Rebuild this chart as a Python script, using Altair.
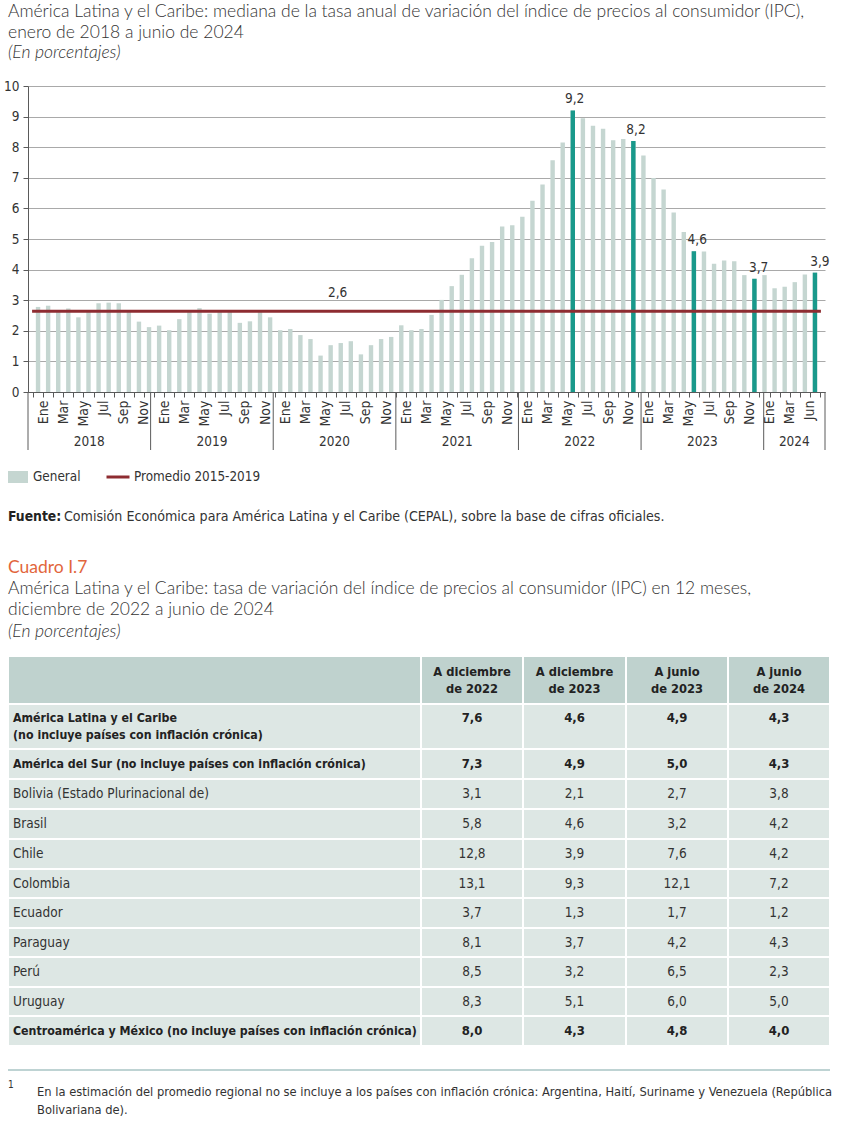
import json
import altair as alt
import pandas as pd

# ---------------- data: gráfico ----------------
ipc_2018 = [2.78, 2.82, 2.68, 2.73, 2.44, 2.65, 2.90, 2.92, 2.90, 2.65, 2.30, 2.12]
ipc_2019 = [2.17, 2.02, 2.38, 2.65, 2.74, 2.56, 2.65, 2.65, 2.26, 2.31, 2.68, 2.44]
ipc_2020 = [2.02, 2.06, 1.86, 1.73, 1.19, 1.53, 1.60, 1.66, 1.23, 1.53, 1.73, 1.80]
ipc_2021 = [2.18, 2.02, 2.06, 2.52, 3.01, 3.46, 3.83, 4.37, 4.78, 4.90, 5.41, 5.45]
ipc_2022 = [5.73, 6.25, 6.78, 7.57, 8.15, 9.20, 8.95, 8.70, 8.60, 8.23, 8.27, 8.20]
ipc_2023 = [7.73, 6.99, 6.62, 5.87, 5.23, 4.60, 4.59, 4.19, 4.30, 4.27, 3.82, 3.70]
ipc_2024 = [3.82, 3.39, 3.44, 3.59, 3.84, 3.90]
years = [2018, 2019, 2020, 2021, 2022, 2023, 2024]
month_names = ["Ene", "Feb", "Mar", "Abr", "May", "Jun", "Jul", "Ago", "Sep", "Oct", "Nov", "Dic"]
tick_labels = ["Ene", "Mar", "May", "Jul", "Sep", "Nov"] * 6 + ["Ene", "Mar", "Jun"]
highlight_idx = [53, 59, 65, 71, 77]
promedio_2015_2019 = 2.64
serie_general = "General"
serie_promedio = "Promedio 2015-2019"

# ---------------- data: cuadro ----------------
col_headers = ["A diciembre\nde 2022", "A diciembre\nde 2023", "A junio\nde 2023", "A junio\nde 2024"]
row_labels = [
    "América Latina y el Caribe\n(no incluye países con inflación crónica)",
    "América del Sur (no incluye países con inflación crónica)",
    "Bolivia (Estado Plurinacional de)",
    "Brasil",
    "Chile",
    "Colombia",
    "Ecuador",
    "Paraguay",
    "Perú",
    "Uruguay",
    "Centroamérica y México (no incluye países con inflación crónica)",
]
dic_2022 = [7.6, 7.3, 3.1, 5.8, 12.8, 13.1, 3.7, 8.1, 8.5, 8.3, 8.0]
dic_2023 = [4.6, 4.9, 2.1, 4.6, 3.9, 9.3, 1.3, 3.7, 3.2, 5.1, 4.3]
jun_2023 = [4.9, 5.0, 2.7, 3.2, 7.6, 12.1, 1.7, 4.2, 6.5, 6.0, 4.8]
jun_2024 = [4.3, 4.3, 3.8, 4.2, 4.2, 7.2, 1.2, 4.3, 2.3, 5.0, 4.0]
bold_rows = [0, 1, 10]

# ---------------- textos ----------------
title_1 = "América Latina y el Caribe: mediana de la tasa anual de variación del índice de precios al consumidor (IPC),"
title_2 = "enero de 2018 a junio de 2024"
subtitle = "(En porcentajes)"
fuente_b = "Fuente:"
fuente_t = "Comisión Económica para América Latina y el Caribe (CEPAL), sobre la base de cifras oficiales."
cuadro = "Cuadro I.7"
ctitle_1 = "América Latina y el Caribe: tasa de variación del índice de precios al consumidor (IPC) en 12 meses,"
ctitle_2 = "diciembre de 2022 a junio de 2024"
nota_n = "1"
nota_t = ("En la estimación del promedio regional no se incluye a los países con inflación crónica: Argentina, Haití, Suriname y Venezuela (República\n"
          "Bolivariana de).")

# ---------------- estilos ----------------
COND = "DejaVu Sans Condensed, Liberation Sans Narrow, sans-serif"
TFONT = "Lato, Roboto, sans-serif"
BAR = "#c5d6d1"
TEAL = "#19998b"
RED = "#8e2c31"
GRID = "#a9a9a9"
AX = "#5a5a5a"
TXT = "#333333"
DARK = "#222222"
HEAD = "#bfd2ce"
BODY = "#dde7e4"
ORANGE = "#e2663c"
SEP = "#a9c4c4"
W, H = 797, 306
TS = 13.5   # tamaño de texto de la tabla
TB = 12.3   # tamaño de texto en negrita de la tabla

# ---------------- tabla mensual ----------------
recs = []
i = 0
for y, vals in zip(years, [ipc_2018, ipc_2019, ipc_2020, ipc_2021, ipc_2022, ipc_2023, ipc_2024]):
    for m, v in enumerate(vals):
        recs.append({"idx": i, "anio": str(y), "mes": month_names[m], "valor": v})
        i += 1
df = pd.DataFrame(recs)
n_months = len(df)

xs = alt.Scale(domain=[0, n_months], nice=False, zero=False)
ys = alt.Scale(domain=[0, 10], nice=False, zero=True)


def CX(field=None, datum=None, axis=None):
    if datum is not None:
        return alt.X(datum=datum, scale=xs, axis=axis)
    return alt.X(field, scale=xs, axis=axis)


def CY(field, axis=None):
    return alt.Y(field, scale=ys, axis=axis, stack=None)


label_expr = ("datum.value % 2 == 1 ? " + json.dumps(tick_labels) +
              "[(datum.value - 1) / 2] : ''")
x_axis = alt.Axis(values=list(range(n_months + 1)), labelExpr=label_expr, labelAngle=270,
                  labelAlign="right", labelBaseline="middle", labelPadding=3, tickSize=5,
                  tickColor=AX, domainColor=AX, labelFont=COND, labelFontSize=14,
                  labelColor=TXT, labelOverlap=False, labelFlush=False, grid=False, title=None,
                  orient="bottom")
y_axis = alt.Axis(values=list(range(11)), grid=True, gridColor=GRID, gridWidth=1, tickSize=5,
                  tickColor=AX, domainColor=AX, labelFont=COND, labelFontSize=13.5,
                  labelColor=TXT, labelPadding=4, title=None, orient="left")

base = alt.Chart(df).transform_calculate(
    xc="datum.idx + 0.5",
    serie="'" + serie_general + "'",
    lab="replace(format(datum.valor, '.1f'), '.', ',')",
)

leg_general = alt.Legend(orient="none", legendX=-20, legendY=381, title=None,
                         symbolType="M-1,-0.6H1V0.6H-1Z", symbolSize=400, symbolStrokeWidth=0,
                         labelFont=COND, labelFontSize=13.4, labelColor=TXT, labelOffset=5, padding=0)
leg_prom = alt.Legend(orient="none", legendX=77, legendY=378, title=None,
                      symbolType="M-1,0H1", symbolSize=529, symbolStrokeWidth=3,
                      labelFont=COND, labelFontSize=13.4, labelColor=TXT, labelOffset=3, padding=0)

bars = base.mark_bar(size=4.4, orient="vertical").encode(
    x=CX("xc:Q", axis=x_axis),
    y=CY("valor:Q", axis=y_axis),
    color=alt.Color("serie:N", scale=alt.Scale(domain=[serie_general], range=[BAR]), legend=leg_general),
)
hl = base.transform_filter(alt.FieldOneOfPredicate(field="idx", oneOf=highlight_idx)).mark_bar(
    size=4.4, orient="vertical", color=TEAL
).encode(x=CX("xc:Q"), y=CY("valor:Q"))

hl_text = base.transform_filter(alt.FieldOneOfPredicate(field="idx", oneOf=highlight_idx)).mark_text(
    font=COND, fontSize=13.5, color=TXT, baseline="bottom", dy=-4
).encode(x=CX("xc:Q"), y=CY("valor:Q"), text="lab:N")

avg_df = pd.DataFrame({"serie": [serie_promedio], "valor": [promedio_2015_2019]})
avg_rule = alt.Chart(avg_df).mark_rule(strokeWidth=3).encode(
    x=CX(datum=0.4), x2=alt.X2(datum=n_months - 0.4),
    y=CY("valor:Q"),
    stroke=alt.Stroke("serie:N", scale=alt.Scale(domain=[serie_promedio], range=[RED]), legend=leg_prom),
)
avg_text = alt.Chart(avg_df).transform_calculate(
    lab="replace(format(datum.valor, '.1f'), '.', ',')"
).mark_text(font=COND, fontSize=13.5, color=TXT, baseline="bottom", dy=-11).encode(
    x=CX(datum=30.3), y=CY("valor:Q"), text="lab:N"
)

dividers = base.transform_filter("datum.idx % 12 == 0").mark_rule(color=AX, strokeWidth=1).encode(
    x=CX("idx:Q"), y=alt.value(H), y2=alt.value(H + 58)
)
end_div = alt.Chart(pd.DataFrame({"fin": [n_months]})).mark_rule(color=AX, strokeWidth=1).encode(
    x=CX("fin:Q"), y=alt.value(H), y2=alt.value(H + 58)
)
year_text = base.transform_aggregate(xm="mean(xc)", groupby=["anio"]).mark_text(
    font=COND, fontSize=13.5, color=TXT, baseline="middle"
).encode(x=CX("xm:Q"), y=alt.value(H + 50), text="anio:N")

chart_layers = [bars, hl, avg_rule, avg_text, hl_text, dividers, end_div, year_text]

# ---------------- cuadro ----------------
tx = alt.Scale(domain=[0, 1, 2, 3, 4, 5], range=[-20, 393, 495, 598, 700, 802], nice=False, zero=False)
ty = alt.Scale(domain=list(range(13)),
               range=[570, 618, 663, 693, 723, 753, 783, 812, 842, 871, 901, 930, 960],
               nice=False, zero=False)


def TX(field):
    return alt.X(field, scale=tx, axis=None)


def TY(field):
    return alt.Y(field, scale=ty, axis=None)


n_rows = len(row_labels) + 1
cells = pd.DataFrame([{"r": r, "c": c} for r in range(n_rows) for c in range(5)])
rects = alt.Chart(cells).transform_calculate(r1="datum.r + 1", c1="datum.c + 1").mark_rect(
    stroke="white", strokeWidth=2
).encode(
    x=TX("c:Q"), x2="c1:Q",
    y=TY("r:Q"), y2="r1:Q",
    fill=alt.condition("datum.r == 0", alt.value(HEAD), alt.value(BODY)),
)

hdr = pd.DataFrame({"c": [1, 2, 3, 4], "t": col_headers})
hdr_text = alt.Chart(hdr).transform_calculate(xm="datum.c + 0.5", ym="0.5").mark_text(
    font=COND, fontSize=12.8, fontWeight="bold", color=DARK, lineBreak="\n", lineHeight=17,
    baseline="middle", align="center", dy=-8.5
).encode(x=TX("xm:Q"), y=TY("ym:Q"), text="t:N")

labs = pd.DataFrame({"r": list(range(1, n_rows)), "t": row_labels,
                     "b": [1 if k in bold_rows else 0 for k in range(len(row_labels))]})
lab_base = alt.Chart(labs).transform_calculate(xm="0", ym="datum.r + 0.5")
lab_norm = lab_base.transform_filter("datum.b == 0").mark_text(
    font=COND, fontSize=TS, color=TXT, align="left", baseline="middle", dx=5
).encode(x=TX("xm:Q"), y=TY("ym:Q"), text="t:N")
lab_bold = lab_base.transform_filter("datum.b == 1 && datum.r > 1").mark_text(
    font=COND, fontSize=TB, fontWeight="bold", color=DARK, align="left", baseline="middle", dx=5
).encode(x=TX("xm:Q"), y=TY("ym:Q"), text="t:N")
lab_first = lab_base.transform_filter("datum.r == 1").mark_text(
    font=COND, fontSize=TB, fontWeight="bold", color=DARK, align="left", baseline="middle",
    dx=5, dy=-8.5, lineBreak="\n", lineHeight=17
).encode(x=TX("xm:Q"), y=TY("ym:Q"), text="t:N")

vals = []
for c, col in enumerate([dic_2022, dic_2023, jun_2023, jun_2024], start=1):
    for k, v in enumerate(col):
        vals.append({"r": k + 1, "c": c, "v": v, "b": 1 if k in bold_rows else 0})
vdf = pd.DataFrame(vals)
v_base = alt.Chart(vdf).transform_calculate(
    xm="datum.c + 0.5", ym="datum.r + 0.5", lab="replace(format(datum.v, '.1f'), '.', ',')"
)
val_norm = v_base.transform_filter("datum.b == 0").mark_text(
    font=COND, fontSize=TS, color=TXT, align="center", baseline="middle"
).encode(x=TX("xm:Q"), y=TY("ym:Q"), text="lab:N")
val_bold = v_base.transform_filter("datum.b == 1 && datum.r > 1").mark_text(
    font=COND, fontSize=13, fontWeight="bold", color=DARK, align="center", baseline="middle"
).encode(x=TX("xm:Q"), y=TY("ym:Q"), text="lab:N")
val_first = v_base.transform_filter("datum.r == 1").mark_text(
    font=COND, fontSize=13, fontWeight="bold", color=DARK, align="center", baseline="middle", dy=-8.5
).encode(x=TX("xm:Q"), y=TY("ym:Q"), text="lab:N")

sep = alt.Chart(pd.DataFrame({"a": [0], "b": [5]})).mark_rule(color=SEP, strokeWidth=1.5).encode(
    x=TX("a:Q"), x2="b:Q", y=alt.value(984)
)

table_layers = [rects, hdr_text, lab_norm, lab_bold, lab_first, val_norm, val_bold, val_first, sep]


# ---------------- notas de texto ----------------
def note(text, x, y, font=COND, size=14, color=TXT, weight="normal", style="normal", lh=18):
    return alt.Chart(pd.DataFrame({"t": [text]})).mark_text(
        font=font, fontSize=size, color=color, fontWeight=weight, fontStyle=style,
        align="left", baseline="middle", lineBreak="\n", lineHeight=lh
    ).encode(text="t:N", x=alt.value(x), y=alt.value(y))


notes = [
    note(title_1, -20, -74, font=TFONT, size=17.5, weight=300),
    note(title_2, -20, -53, font=TFONT, size=17.5, weight=300),
    note(subtitle, -20, -33, font=TFONT, size=17.5, weight=300, style="italic"),
    note(fuente_b, -20, 431, weight="bold", color=DARK, size=13.8),
    note(fuente_t, 36, 431, size=14.1),
    note(cuadro, -20, 482, font=TFONT, size=17.5, color=ORANGE),
    note(ctitle_1, -20, 503, font=TFONT, size=17.5, weight=300),
    note(ctitle_2, -20, 524, font=TFONT, size=17.5, weight=300),
    note(subtitle, -20, 546, font=TFONT, size=17.5, weight=300, style="italic"),
    note(nota_n, -20, 999, size=10),
    note(nota_t, 9, 1006, size=12.8, lh=18),
]

chart = alt.layer(*chart_layers, *table_layers, *notes).resolve_scale(
    x="independent", y="independent"
).properties(
    width=W, height=H,
    autosize=alt.AutoSizeParams(type="none"),
    padding={"left": 28, "top": 86, "right": 20, "bottom": 738},
    background="white",
).configure_view(stroke=None)

chart.save("out.html", embed_options={"renderer": "svg", "actions": False})
